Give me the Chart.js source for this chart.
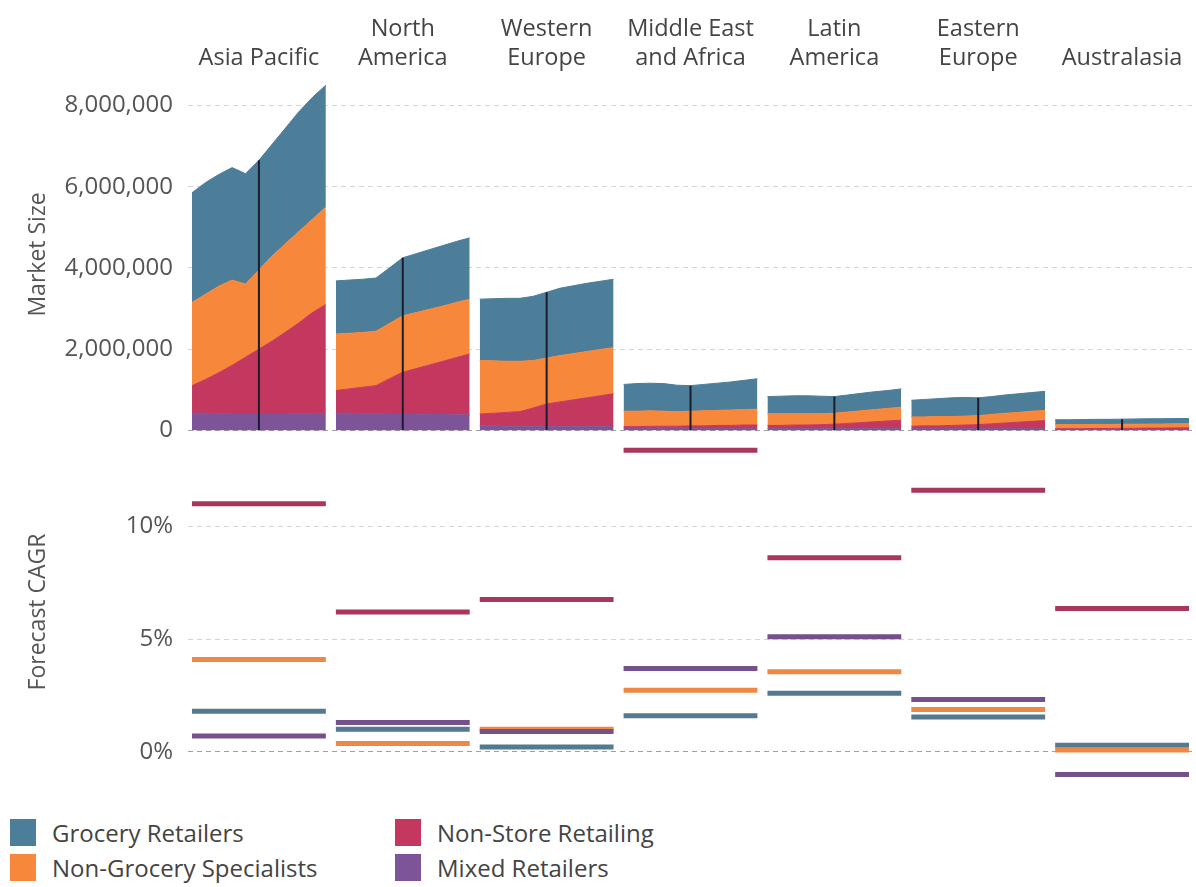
<!DOCTYPE html>
<html>
<head>
<meta charset="utf-8">
<title>Retail market size and forecast CAGR by region</title>
<script src="https://cdn.jsdelivr.net/npm/chart.js@4.4.1/dist/chart.umd.min.js"></script>
<style>
  html, body { margin: 0; padding: 0; background: #fff; }
  body { width: 1196px; height: 887px; overflow: hidden; font-family: 'Open Sans', sans-serif; }
  #wrap { position: relative; width: 1196px; height: 800px; }
  #legend {
    display: grid; grid-auto-flow: column;
    grid-template-rows: 35px 35px; grid-template-columns: 385px 360px;
    margin: 15px 0 0 10px;
  }
  .item { display: flex; align-items: center; font-size: 24px; color: #444; }
  .box { width: 26px; height: 27px; margin-right: 16px; }
</style>
</head>
<body>
<div id="wrap"><canvas id="retailChart"></canvas></div>
<div id="legend"></div>
<script>
// regions (panel titles), one entry per small multiple
const regions = [['Asia Pacific'], ['North', 'America'], ['Western', 'Europe'], ['Middle East', 'and Africa'],
  ['Latin', 'America'], ['Eastern', 'Europe'], ['Australasia']];
const years = [2008, 2009, 2010, 2011, 2012, 2013, 2014, 2015, 2016, 2017, 2018];
const currentYear = 2013;

// market size, one row per region, one value per year
const groceryRetailers = [
  [2700000, 2750000, 2750000, 2770000, 2720000, 2700000, 2750000, 2850000, 2950000, 3000000, 3000000],
  [1310000, 1310000, 1310000, 1310000, 1370000, 1430000, 1450000, 1470000, 1490000, 1500000, 1510000],
  [1510000, 1530000, 1550000, 1550000, 1580000, 1620000, 1660000, 1670000, 1680000, 1680000, 1680000],
  [660000, 680000, 680000, 680000, 650000, 630000, 650000, 670000, 690000, 720000, 750000],
  [420000, 430000, 440000, 440000, 430000, 410000, 420000, 430000, 440000, 440000, 450000],
  [410000, 430000, 440000, 460000, 460000, 440000, 440000, 450000, 460000, 460000, 470000],
  [120000, 120000, 125000, 125000, 125000, 125000, 130000, 130000, 130000, 130000, 130000]
];
const nonGrocerySpecialists = [
  [2050000, 2100000, 2130000, 2100000, 1800000, 1950000, 2100000, 2180000, 2250000, 2300000, 2400000],
  [1390000, 1370000, 1350000, 1340000, 1360000, 1390000, 1380000, 1370000, 1360000, 1360000, 1350000],
  [1320000, 1290000, 1260000, 1240000, 1170000, 1130000, 1140000, 1140000, 1140000, 1140000, 1140000],
  [380000, 380000, 380000, 370000, 360000, 360000, 370000, 370000, 380000, 380000, 390000],
  [290000, 290000, 280000, 280000, 270000, 270000, 280000, 290000, 300000, 310000, 320000],
  [230000, 220000, 230000, 220000, 220000, 220000, 230000, 240000, 240000, 250000, 250000],
  [100000, 100000, 100000, 100000, 100000, 100000, 100000, 100000, 100000, 100000, 100000]
];
const nonStoreRetailing = [
  [680000, 830000, 1010000, 1200000, 1400000, 1600000, 1800000, 2020000, 2240000, 2490000, 2680000],
  [560000, 600000, 650000, 690000, 870000, 1030000, 1120000, 1220000, 1310000, 1410000, 1500000],
  [290000, 310000, 340000, 360000, 450000, 550000, 600000, 650000, 700000, 750000, 800000],
  [50000, 50000, 60000, 60000, 60000, 70000, 70000, 80000, 80000, 90000, 90000],
  [70000, 70000, 80000, 80000, 90000, 100000, 120000, 140000, 160000, 180000, 200000],
  [60000, 70000, 70000, 80000, 90000, 100000, 120000, 140000, 160000, 180000, 200000],
  [20000, 20000, 20000, 25000, 25000, 30000, 30000, 35000, 35000, 40000, 40000]
];
const mixedRetailers = [
  [420000, 420000, 410000, 400000, 400000, 400000, 400000, 400000, 410000, 410000, 420000],
  [420000, 420000, 410000, 410000, 400000, 400000, 400000, 390000, 390000, 380000, 380000],
  [110000, 110000, 100000, 100000, 100000, 100000, 100000, 100000, 100000, 100000, 100000],
  [40000, 40000, 40000, 40000, 40000, 40000, 40000, 40000, 40000, 40000, 40000],
  [50000, 50000, 50000, 50000, 50000, 50000, 50000, 50000, 50000, 50000, 50000],
  [40000, 40000, 40000, 40000, 40000, 40000, 40000, 40000, 40000, 40000, 40000],
  [20000, 20000, 20000, 20000, 20000, 20000, 20000, 20000, 20000, 20000, 20000]
];

// forecast CAGR (%), one value per region
const cagrGrocery = [1.8, 1.0, 0.22, 1.6, 2.6, 1.55, 0.3];
const cagrNonGrocery = [4.1, 0.37, 1.0, 2.73, 3.55, 1.88, 0.08];
const cagrNonStore = [11.0, 6.2, 6.75, 13.37, 8.6, 11.6, 6.35];
const cagrMixed = [0.7, 1.3, 0.9, 3.7, 5.1, 2.32, -1.0];

const marketTicks = [0, 2000000, 4000000, 6000000, 8000000];
const cagrTicks = [0, 5, 10];

// series, bottom of the stack first
const series = [
  { label: 'Mixed Retailers', size: mixedRetailers, cagr: cagrMixed, fill: '#7d5497', line: '#74508c' },
  { label: 'Non-Store Retailing', size: nonStoreRetailing, cagr: cagrNonStore, fill: '#c4385f', line: '#a9365f' },
  { label: 'Non-Grocery Specialists', size: nonGrocerySpecialists, cagr: cagrNonGrocery, fill: '#f7883b', line: '#ee8844' },
  { label: 'Grocery Retailers', size: groceryRetailers, cagr: cagrGrocery, fill: '#4c7d99', line: '#557a90' }
];
const legendOrder = ['Grocery Retailers', 'Non-Grocery Specialists', 'Non-Store Retailing', 'Mixed Retailers'];

// each region gets its own stretch of the x axis, with a small gap
const last = years.length - 1;
const STRIDE = last + 0.75;
const xOf = (r, i) => r * STRIDE + i;
const X_MIN = -0.3;
const X_MAX = xOf(regions.length - 1, last) + 0.3;
const curIdx = years.indexOf(currentYear);

function areaData(rows) {
  const pts = [];
  rows.forEach((row, r) => {
    row.forEach((v, i) => pts.push({ x: xOf(r, i), y: v }));
    pts.push({ x: xOf(r, last) + 0.375, y: null });
  });
  return pts;
}

function cagrData(values) {
  const pts = [];
  values.forEach((v, r) => {
    pts.push({ x: xOf(r, 0), y: v }, { x: xOf(r, last), y: v }, { x: xOf(r, last) + 0.375, y: null });
  });
  return pts;
}

const markerData = [];
regions.forEach((_, r) => {
  const total = series.reduce((s, d) => s + d.size[r][curIdx], 0);
  markerData.push({ x: xOf(r, curIdx), y: 0 }, { x: xOf(r, curIdx), y: total }, { x: xOf(r, curIdx) + 0.01, y: null });
});

const datasets = [];
series.forEach((s, k) => {
  datasets.push({
    label: s.label, data: areaData(s.size), yAxisID: 'y', stack: 'market',
    backgroundColor: s.fill, borderColor: s.fill, borderWidth: 1,
    fill: k === 0 ? 'origin' : '-1', pointRadius: 0, tension: 0, spanGaps: false
  });
});
datasets.push({
  label: 'current year', data: markerData, yAxisID: 'y', stack: 'marker', order: -1,
  borderColor: '#1d1d2b', borderWidth: 2, pointRadius: 0, fill: false, spanGaps: false
});
series.forEach((s) => {
  datasets.push({
    label: s.label + ' CAGR', data: cagrData(s.cagr), yAxisID: 'y2',
    borderColor: s.line, borderWidth: 5, borderCapStyle: 'butt', pointRadius: 0, fill: false, spanGaps: false
  });
});

const tickFont = { family: 'Open Sans', size: 24 };
const gridColor = (ctx) => (ctx.tick && ctx.tick.value === 0 ? '#a0a0a0' : '#d4d4d4');
const fitLeft = (axis) => { axis.width = 188; axis.paddingTop = 0; axis.paddingBottom = 0; };

const ctx = document.getElementById('retailChart').getContext('2d');
new Chart(ctx, {
  type: 'line',
  data: { datasets: datasets },
  options: {
    responsive: true,
    maintainAspectRatio: false,
    animation: false,
    layout: { padding: { left: 0, right: 3, top: 0, bottom: 12 } },
    plugins: {
      legend: { display: false },
      tooltip: { enabled: false }
    },
    scales: {
      x: { type: 'linear', min: X_MIN, max: X_MAX, display: false },
      xTop: {
        type: 'linear', position: 'top', min: X_MIN, max: X_MAX,
        grid: { display: false, drawTicks: false }, border: { display: false },
        afterBuildTicks: (axis) => { axis.ticks = regions.map((_, r) => ({ value: xOf(r, last / 2) })); },
        afterFit: (axis) => { axis.height = 73; },
        ticks: {
          autoSkip: false, maxRotation: 0, padding: 0, color: '#444',
          font: { family: 'Open Sans', size: 23.5, lineHeight: 1.25 },
          callback: (v, i) => regions[i]
        }
      },
      y: {
        position: 'left', stack: 'panels', stackWeight: 364, weight: 1, stacked: true,
        min: -140000, max: 8800000,
        afterBuildTicks: (axis) => { axis.ticks = marketTicks.map((v) => ({ value: v })); },
        afterFit: fitLeft,
        grid: { color: gridColor, drawTicks: false, lineWidth: 1 },
        border: { display: false, dash: [5, 4] },
        ticks: { color: '#555', font: tickFont, padding: 15, callback: (v) => v.toLocaleString('en-US') },
        title: { display: true, text: 'Market Size', color: '#555', font: { family: 'Open Sans', size: 23 }, padding: { top: 25, bottom: 0 } }
      },
      y2: {
        position: 'left', stack: 'panels', stackWeight: 353, weight: 0,
        min: -1.6, max: 14,
        afterBuildTicks: (axis) => { axis.ticks = cagrTicks.map((v) => ({ value: v })); },
        afterFit: fitLeft,
        grid: { color: gridColor, drawTicks: false, lineWidth: 1 },
        border: { display: false, dash: [5, 4] },
        ticks: { color: '#555', font: tickFont, padding: 15, callback: (v) => v + '%' },
        title: { display: true, text: 'Forecast CAGR', color: '#555', font: { family: 'Open Sans', size: 23 }, padding: { top: 25, bottom: 0 } }
      }
    }
  }
});

// legend, two columns like the original
const legend = document.getElementById('legend');
legendOrder.forEach((name) => {
  const s = series.find((d) => d.label === name);
  const item = document.createElement('div');
  item.className = 'item';
  const box = document.createElement('span');
  box.className = 'box';
  box.style.background = s.fill;
  item.appendChild(box);
  item.appendChild(document.createTextNode(s.label));
  legend.appendChild(item);
});
</script>
</body>
</html>
